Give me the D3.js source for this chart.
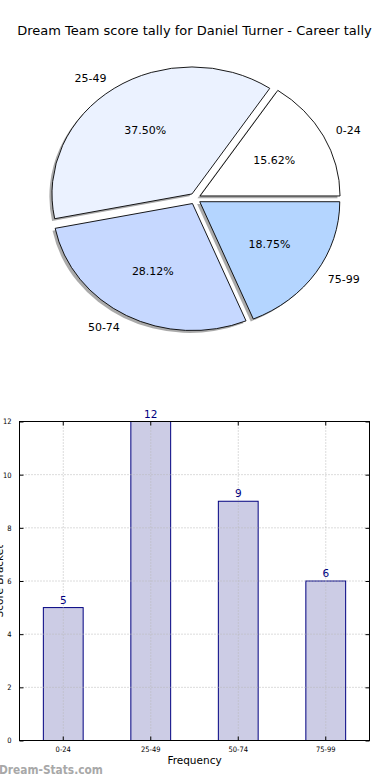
<!DOCTYPE html>
<html><head><meta charset="utf-8">
<script src="https://cdn.jsdelivr.net/npm/d3@7/dist/d3.min.js"></script>
<style>
html,body{margin:0;padding:0;background:#fff;}
svg{display:block;font-family:"DejaVu Sans",sans-serif;}
</style></head>
<body><svg id="c" width="390" height="780"></svg>
<script>
const title = "Dream Team score tally for Daniel Turner - Career tally";
const categories = ["0-24","25-49","50-74","75-99"];
const counts = [5, 12, 9, 6];
const pieColors = ["#ffffff","#ebf2ff","#c6d8ff","#b4d5ff"];
const yTicks = [0,2,4,6,8,10,12];
const xLabel = "Frequency";
const yLabel = "Score Bracket";
const watermark = "Dream-Stats.com";

const svg = d3.select("#c");

svg.append("text").attr("x",194.5).attr("y",35).attr("text-anchor","middle")
  .attr("font-size",13).attr("fill","#000").text(title);

function pct2(v){
  const s = v*100, f = Math.floor(s), r = s - f;
  let n = r > 0.5 ? f+1 : (r < 0.5 ? f : (f % 2 === 0 ? f : f+1));
  return (n/100).toFixed(2);
}

// ---- Pie ----
const cx = 195.1, cy = 198.6, R = 140, ky = 127/140, explode = 5.6;
const pie = d3.pie().sort(null).startAngle(Math.PI/2).endAngle(Math.PI/2 - 2*Math.PI);
const arcs = pie(counts);
const arc = d3.arc().innerRadius(0).outerRadius(R);
const total = d3.sum(counts);
function dirOf(d){ const a=(d.startAngle+d.endAngle)/2; return [Math.sin(a), -Math.cos(a)]; }
const pg = svg.append("g");
arcs.forEach((d,i)=>{
  const [ux,uy]=dirOf(d);
  pg.append("path").attr("d",arc(d))
    .attr("transform",`translate(${cx+ux*explode-2.6},${cy+uy*explode+2.4}) scale(1,${ky})`)
    .attr("fill","#555").attr("opacity",0.5);
});
arcs.forEach((d,i)=>{
  const [ux,uy]=dirOf(d);
  pg.append("path").attr("d",arc(d))
    .attr("transform",`translate(${cx+ux*explode},${cy+uy*explode}) scale(1,${ky})`)
    .attr("fill",pieColors[i]).attr("stroke","#000").attr("stroke-width",0.9)
    .attr("vector-effect","non-scaling-stroke");
});
arcs.forEach((d,i)=>{
  const [ux,uy]=dirOf(d);
  const ox = cx+ux*explode, oy = cy+uy*explode;
  pg.append("text").attr("x",ox+ux*R*1.1).attr("y",oy+uy*R*ky*1.1).attr("dy","0.35em")
    .attr("text-anchor", ux>0?"start":"end").attr("font-size",11).text(categories[i]);
  pg.append("text").attr("x",ox+ux*R*0.6).attr("y",oy+uy*R*ky*0.6).attr("dy","0.35em")
    .attr("text-anchor","middle").attr("font-size",11)
    .text(pct2(counts[i]/total*100)+"%");
});

// ---- Bar chart ----
const L=19.5, Rr=369.5, T=421.5, B=740.5;
const x = d3.scaleBand().domain(categories).range([L,Rr]).paddingInner(0.545).paddingOuter(0.2725);
const y = d3.scaleLinear().domain([0,12]).range([B,T]);
const bg = svg.append("g");
const gridStyle = s=>s.attr("stroke","#b8b8b8").attr("stroke-width",1).attr("stroke-dasharray","1,2");
bg.selectAll("rect.bar").data(counts).join("rect").attr("class","bar")
  .attr("x",(d,i)=>x(categories[i])).attr("width",x.bandwidth())
  .attr("y",d=>y(d)).attr("height",d=>B-y(d))
  .attr("fill","#ccccE5").attr("stroke","#000080").attr("stroke-width",1);
categories.forEach(c=>{ const xc=x(c)+x.bandwidth()/2; gridStyle(bg.append("line").attr("x1",xc).attr("x2",xc).attr("y1",T).attr("y2",B)); });
yTicks.forEach(t=>{ gridStyle(bg.append("line").attr("x1",L).attr("x2",Rr).attr("y1",y(t)).attr("y2",y(t))); });
bg.selectAll("text.val").data(counts).join("text").attr("class","val")
  .attr("x",(d,i)=>x(categories[i])+x.bandwidth()/2).attr("y",d=>y(d)-4)
  .attr("text-anchor","middle").attr("font-size",10.5).attr("fill","#000080").text(d=>d);
bg.append("rect").attr("x",L).attr("y",T).attr("width",Rr-L).attr("height",B-T)
  .attr("fill","none").attr("stroke","#000").attr("stroke-width",1);
const yAxL = d3.axisLeft(y).tickValues(yTicks).tickSizeInner(-4).tickSizeOuter(0).tickPadding(8).tickFormat(d3.format("d"));
const gL = bg.append("g").attr("transform",`translate(${L},0)`).call(yAxL);
const yAxR = d3.axisRight(y).tickValues(yTicks).tickSizeInner(-4).tickSizeOuter(0).tickFormat("");
const gR = bg.append("g").attr("transform",`translate(${Rr},0)`).call(yAxR);
const xAxB = d3.axisBottom(x).tickSizeInner(-4).tickSizeOuter(0).tickPadding(6);
const gB = bg.append("g").attr("transform",`translate(0,${B})`).call(xAxB);
const xAxT = d3.axisTop(x).tickSizeInner(-4).tickSizeOuter(0).tickFormat("");
const gT = bg.append("g").attr("transform",`translate(0,${T})`).call(xAxT);
[gL,gR,gB,gT].forEach(g=>{ g.select(".domain").remove(); g.selectAll("line").attr("stroke","#000"); g.selectAll("text").attr("font-family","'DejaVu Sans Condensed','DejaVu Sans',sans-serif").attr("font-size",7.5).attr("fill","#000"); });

svg.append("text").attr("x",194.5).attr("y",764).attr("text-anchor","middle").attr("font-size",10.5).text(xLabel);
svg.append("text").attr("transform",`translate(3,${(T+B)/2}) rotate(-90)`).attr("text-anchor","middle")
  .attr("font-size",10.5).text(yLabel);
svg.append("text").attr("x",-1).attr("y",774).attr("font-size",11.8).attr("font-weight","bold")
  .attr("font-family","'DejaVu Sans Condensed','DejaVu Sans',sans-serif")
  .attr("fill","#a8a8a8").text(watermark);
</script></body></html>
